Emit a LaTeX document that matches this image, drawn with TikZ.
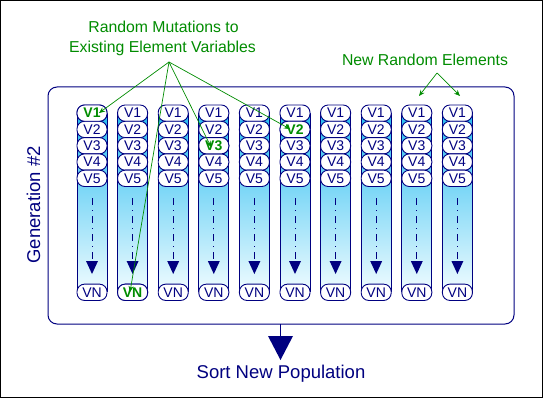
\documentclass[tikz,border=0pt]{standalone}
\usepackage{fontspec}
\setmainfont{Liberation Sans}
\usetikzlibrary{arrows.meta}
\definecolor{navy}{RGB}{0,0,128}
\definecolor{grn}{RGB}{0,140,0}
\definecolor{cyTop}{RGB}{40,188,240}
\definecolor{cyBot}{RGB}{240,252,255}
\begin{document}
\begin{tikzpicture}[x=1pt,y=-1pt,
  cell/.style={draw=navy, fill=white, rounded corners=7.5pt, minimum width=30pt,
    minimum height=16.3pt, inner sep=0pt, line width=0.9pt,
    font=\fontsize{14}{14}\selectfont, text=navy},
  mut/.style={text=grn, font=\fontsize{14}{14}\selectfont\bfseries},
  gtext/.style={text=grn, font=\fontsize{15.8}{17}\selectfont, inner sep=0pt, anchor=base},
  garrow/.style={draw=grn, line width=0.7pt, -{Stealth[length=6pt,width=5pt]}},
  btext/.style={text=navy, font=\fontsize{18.5}{20}\selectfont, inner sep=0pt, anchor=base}]
\useasboundingbox (0,0) rectangle (543,398);
\fill[white] (0,0) rectangle (543,398);
\draw[black, line width=1pt] (0.5,0.5) rectangle (542.5,397.5);
% outer generation box
\draw[navy, line width=1pt, rounded corners=9pt] (48,87) rectangle (514,324);
\node[btext, rotate=90] (gen) at (40,205) {Generation \#2};
% columns
\foreach \i in {0,...,9}{
  \pgfmathsetmacro\cx{92+40.6*\i}
  \fill[top color=cyTop, bottom color=cyBot] (\cx-15,113) rectangle (\cx+15,292);
  \draw[navy, line width=1pt] (\cx-15,113) -- (\cx-15,292) (\cx+15,113) -- (\cx+15,292);
  \foreach \j in {1,...,5}{
    \node[cell] (c\i-\j) at (\cx,{113.15+16.3*(\j-1)}) {};
  }
  \node[cell] (c\i-N) at (\cx,292.3) {};
  \coordinate (d\i a) at (\cx,198);
  \coordinate (d\i b) at (\cx,262);
  \draw[navy, line width=0.9pt, dash pattern=on 7pt off 5pt on 1pt off 5pt] (d\i a) -- (d\i b);
  \fill[navy] (\cx-6,261) -- (\cx+6,261) -- (\cx,274) -- cycle;
}
% labels
\foreach \i in {0,...,9}{
  \foreach \j in {1,...,5}{
    \node[text=navy, font=\fontsize{14}{14}\selectfont] at (c\i-\j) {V\j};
  }
}
\foreach \i in {0,2,3,4,5,6,7,8,9}{
  \node[text=navy, font=\fontsize{14}{14}\selectfont] at (c\i-N) {VN};
}
% mutated cells (green bold labels drawn over)
\node[cell, mut] at (c0-1) {V1};
\node[cell, mut] at (c1-N) {VN};
\node[cell, mut] at (c3-3) {V3};
\node[cell, mut] at (c5-2) {V2};
% annotation texts
\node[gtext] (mt1) at (163.5,32.3) {Random Mutations to};
\node[gtext] (mt2) at (162.5,52.3) {Existing Element Variables};
\node[gtext] (nre) at (425,65.7) {New Random Elements};
\coordinate (src) at (169,62);
\coordinate (t1) at (99,113);
\coordinate (t2) at (130,292);
\coordinate (t3) at (211,147);
\coordinate (t4) at (290,129);
\draw[garrow] (src) -- (t1);
\draw[garrow] (src) -- (t2);
\draw[garrow] (src) -- (t3);
\draw[garrow] (src) -- (t4);
\coordinate (src2) at (437,73);
\coordinate (n1) at (419,96);
\coordinate (n2) at (460,96);
\draw[garrow] (src2) -- (n1);
\draw[garrow] (src2) -- (n2);
% sort arrow
\coordinate (sa) at (280.5,324);
\coordinate (sb) at (280.5,337);
\draw[navy, line width=1pt] (sa) -- (sb);
\fill[navy] (268,336) -- (293,336) -- (280.5,360) -- cycle;
\node[btext] (sort) at (281,378) {Sort New Population};
\end{tikzpicture}
\end{document}
